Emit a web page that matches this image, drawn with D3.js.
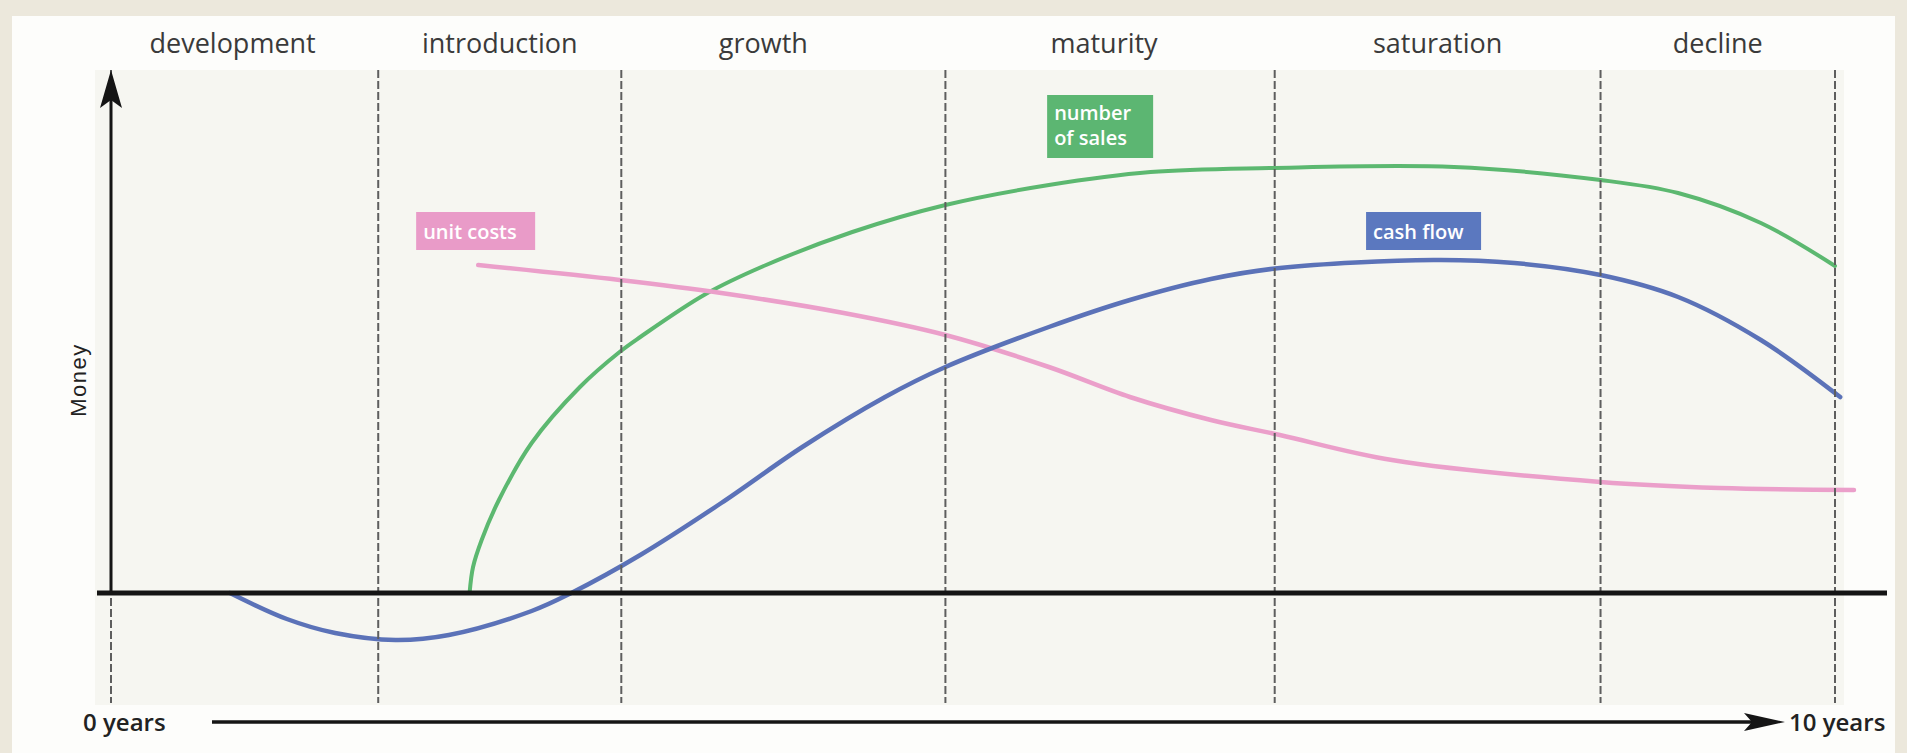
<!DOCTYPE html>
<html>
<head>
<meta charset="utf-8">
<script src="https://cdn.jsdelivr.net/npm/d3@7"></script>
<style>
  html, body { margin: 0; padding: 0; background: #ece8dc; }
  svg { display: block; }
</style>
</head>
<body>
<svg id="chart" width="1907" height="753"></svg>
<script>
// Product life cycle: phases along a 10-year axis
const phases = ["development", "introduction", "growth", "maturity", "saturation", "decline"];
const phaseBounds = [0, 1.55, 2.96, 4.84, 6.75, 8.64, 10];

// Number of sales
const salesYears  = [2.08, 2.10, 2.15, 2.25, 2.44, 2.72, 2.95, 3.07, 3.45, 3.80, 4.30, 4.84, 5.44, 6.03, 6.72, 7.79, 8.64, 9.09, 9.57, 10.0];
const salesValues = [0.00, 0.52, 1.06, 1.86, 3.00, 4.12, 4.82, 5.12, 5.98, 6.56, 7.22, 7.76, 8.16, 8.42, 8.50, 8.52, 8.26, 8.00, 7.40, 6.54];

// Unit costs
const costYears  = [2.13, 2.95, 3.54, 4.25, 4.84, 5.44, 5.91, 6.38, 6.78, 7.43, 8.64, 9.33, 10.11];
const costValues = [6.56, 6.26, 6.00, 5.60, 5.16, 4.52, 3.92, 3.46, 3.16, 2.66, 2.22, 2.10, 2.06];

// Cash flow
const cashYears  = [0.69, 1.02, 1.30, 1.65, 1.96, 2.44, 2.67, 3.07, 3.54, 4.01, 4.49, 4.84, 5.44, 5.91, 6.38, 6.78, 7.67, 8.14, 8.64, 9.09, 9.57, 10.03];
const cashValues = [0.00, -0.52, -0.80, -0.94, -0.84, -0.36, 0.00, 0.76, 1.80, 2.92, 3.92, 4.52, 5.32, 5.86, 6.28, 6.50, 6.66, 6.60, 6.36, 5.92, 5.06, 3.92];

const timeLabels = ["0 years", "10 years"];
const moneyLabel = "Money";

const svg = d3.select("#chart");
const W = 1907, H = 753;

const x = d3.scaleLinear().domain([0, 10]).range([111, 1835]);
const y = d3.scaleLinear().domain([0, 10]).range([593, 93]);

const plotTop = y(10.46), plotBottom = y(-2.2);

// panels
svg.append("rect").attr("x", 0).attr("y", 0).attr("width", W).attr("height", H).attr("fill", "#ece8dc");
svg.append("rect").attr("x", 12).attr("y", 16).attr("width", 1883).attr("height", H - 16).attr("fill", "#fdfdfb");
svg.append("rect").attr("x", x(0) - 16).attr("y", plotTop).attr("width", x(10) - x(0) + 25)
  .attr("height", plotBottom - plotTop + 2).attr("fill", "#f6f6f1");

// phase titles (a couple sit slightly left of their band centre)
const titleNudge = { development: -12, growth: -20, maturity: -6 };
svg.append("g").selectAll("text").data(phases).join("text")
  .attr("x", (d, i) => x((phaseBounds[i] + phaseBounds[i + 1]) / 2) + (titleNudge[d] || 0))
  .attr("y", 53)
  .attr("text-anchor", "middle")
  .attr("font-family", "'Open Sans', sans-serif")
  .attr("font-size", 27)
  .attr("fill", "#3a3a3a")
  .text(d => d);

// curves
const line = d3.line().x(d => x(d[0])).y(d => y(d[1])).curve(d3.curveCatmullRom.alpha(0.5));
const series = [
  { name: "sales", years: salesYears, values: salesValues, color: "#5cb870", width: 4 },
  { name: "cost",  years: costYears,  values: costValues,  color: "#eb9fca", width: 4.5 },
  { name: "cash",  years: cashYears,  values: cashValues,  color: "#5b72b8", width: 4.5 }
];
svg.append("g").selectAll("path").data(series).join("path")
  .attr("d", s => line(s.years.map((t, i) => [t, s.values[i]])))
  .attr("fill", "none")
  .attr("stroke", s => s.color)
  .attr("stroke-width", s => s.width)
  .attr("stroke-linecap", "round");

// phase boundaries
svg.append("g").selectAll("line").data(phaseBounds).join("line")
  .attr("x1", d => x(d)).attr("x2", d => x(d))
  .attr("y1", plotTop).attr("y2", plotBottom)
  .attr("stroke", "#5e5e5e")
  .attr("stroke-width", 2)
  .attr("stroke-dasharray", "8,3");

// zero line
svg.append("line")
  .attr("x1", x(0) - 14).attr("x2", x(10) + 52)
  .attr("y1", y(0)).attr("y2", y(0))
  .attr("stroke", "#151515").attr("stroke-width", 5);

// money axis with arrow
svg.append("line")
  .attr("x1", x(0)).attr("x2", x(0))
  .attr("y1", y(0)).attr("y2", plotTop + 20)
  .attr("stroke", "#151515").attr("stroke-width", 3);
svg.append("path")
  .attr("d", `M${x(0)},${plotTop} L${x(0) + 11},${plotTop + 38} L${x(0)},${plotTop + 30} L${x(0) - 11},${plotTop + 38} Z`)
  .attr("fill", "#151515");

svg.append("text")
  .attr("transform", `translate(86,${y(4.26)}) rotate(-90)`)
  .attr("text-anchor", "middle")
  .attr("font-family", "'Liberation Sans', Arial, sans-serif")
  .attr("font-size", 22)
  .attr("letter-spacing", 1.5)
  .attr("fill", "#222")
  .text(moneyLabel);

// time arrow
const arrowY = 722;
svg.append("line")
  .attr("x1", 212).attr("x2", 1760)
  .attr("y1", arrowY).attr("y2", arrowY)
  .attr("stroke", "#151515").attr("stroke-width", 3.5);
svg.append("path")
  .attr("d", `M1785,${arrowY} L1744,${arrowY - 9} L1752,${arrowY} L1744,${arrowY + 9} Z`)
  .attr("fill", "#151515");

svg.append("text").attr("x", 83).attr("y", 731)
  .attr("font-family", "'Open Sans', sans-serif").attr("font-size", 24).attr("font-weight", 600)
  .attr("fill", "#222").text(timeLabels[0]);
svg.append("text").attr("x", 1789).attr("y", 731)
  .attr("font-family", "'Open Sans', sans-serif").attr("font-size", 24).attr("font-weight", 600)
  .attr("fill", "#222").text(timeLabels[1]);

// series tags
const tags = [
  { lines: ["unit costs"], at: [1.77, 7.62], w: 119, h: 38, fill: "#e99bc8" },
  { lines: ["number", "of sales"], at: [5.43, 9.96], w: 106, h: 63, fill: "#5cb672" },
  { lines: ["cash flow"], at: [7.28, 7.62], w: 115, h: 38, fill: "#5b78bf" }
];
const tagG = svg.append("g").selectAll("g").data(tags).join("g")
  .attr("transform", d => `translate(${x(d.at[0])},${y(d.at[1])})`);
tagG.append("rect").attr("width", d => d.w).attr("height", d => d.h).attr("fill", d => d.fill);
tagG.each(function (d) {
  d3.select(this).selectAll("text").data(d.lines).join("text")
    .attr("x", 7)
    .attr("y", (t, i) => (d.lines.length > 1 ? 25 : 27) + i * 25)
    .attr("font-family", "'Open Sans', sans-serif")
    .attr("font-size", 20)
    .attr("font-weight", 600)
    .attr("fill", "#ffffff")
    .text(t => t);
});
</script>
</body>
</html>
